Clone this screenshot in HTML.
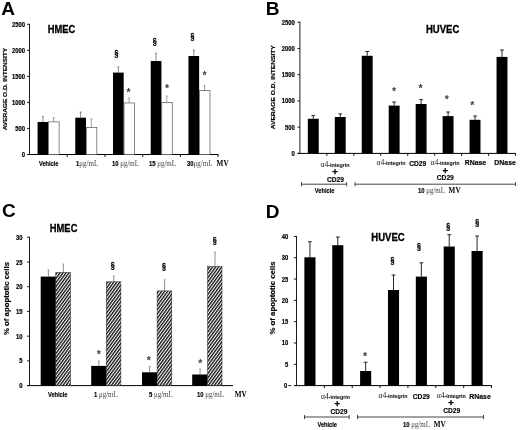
<!DOCTYPE html>
<html lang="en">
<head>
<meta charset="utf-8">
<title>Figure</title>
<style>
html,body{margin:0;padding:0;background:#fff;}
body{width:520px;height:430px;overflow:hidden;font-family:"Liberation Sans", Arial, Helvetica, sans-serif;}
svg{display:block;filter:blur(0.35px);}
</style>
</head>
<body>
<svg width="520" height="430" viewBox="0 0 520 430">
<rect x="0" y="0" width="520" height="430" fill="#ffffff"/>
<text transform="translate(1.30,14.80) scale(1,1)" font-family='"Liberation Sans", Arial, Helvetica, sans-serif' font-size="19" font-weight="bold" text-anchor="start" fill="#000"  >A</text>
<text transform="translate(61.50,33.10) scale(0.93,1)" font-family='"Liberation Sans", Arial, Helvetica, sans-serif' font-size="10.1" font-weight="bold" text-anchor="middle" fill="#000" stroke="#000" stroke-width="0.3" >HMEC</text>
<line x1="29.50" y1="23.80" x2="29.50" y2="155.00" stroke="#000" stroke-width="0.9"/>
<line x1="27.30" y1="154.50" x2="218.40" y2="154.50" stroke="#000" stroke-width="1"/>
<line x1="27.10" y1="154.50" x2="29.50" y2="154.50" stroke="#000" stroke-width="0.9"/>
<text transform="translate(25.00,157.00) scale(0.9,1)" font-family='"Liberation Sans", Arial, Helvetica, sans-serif' font-size="6.5" font-weight="bold" text-anchor="end" fill="#000" stroke="#000" stroke-width="0.2" >0</text>
<line x1="27.10" y1="128.46" x2="29.50" y2="128.46" stroke="#000" stroke-width="0.9"/>
<text transform="translate(25.00,130.96) scale(0.9,1)" font-family='"Liberation Sans", Arial, Helvetica, sans-serif' font-size="6.5" font-weight="bold" text-anchor="end" fill="#000" stroke="#000" stroke-width="0.2" >500</text>
<line x1="27.10" y1="102.42" x2="29.50" y2="102.42" stroke="#000" stroke-width="0.9"/>
<text transform="translate(25.00,104.92) scale(0.9,1)" font-family='"Liberation Sans", Arial, Helvetica, sans-serif' font-size="6.5" font-weight="bold" text-anchor="end" fill="#000" stroke="#000" stroke-width="0.2" >1000</text>
<line x1="27.10" y1="76.38" x2="29.50" y2="76.38" stroke="#000" stroke-width="0.9"/>
<text transform="translate(25.00,78.88) scale(0.9,1)" font-family='"Liberation Sans", Arial, Helvetica, sans-serif' font-size="6.5" font-weight="bold" text-anchor="end" fill="#000" stroke="#000" stroke-width="0.2" >1500</text>
<line x1="27.10" y1="50.34" x2="29.50" y2="50.34" stroke="#000" stroke-width="0.9"/>
<text transform="translate(25.00,52.84) scale(0.9,1)" font-family='"Liberation Sans", Arial, Helvetica, sans-serif' font-size="6.5" font-weight="bold" text-anchor="end" fill="#000" stroke="#000" stroke-width="0.2" >2000</text>
<line x1="27.10" y1="24.30" x2="29.50" y2="24.30" stroke="#000" stroke-width="0.9"/>
<text transform="translate(25.00,26.80) scale(0.9,1)" font-family='"Liberation Sans", Arial, Helvetica, sans-serif' font-size="6.5" font-weight="bold" text-anchor="end" fill="#000" stroke="#000" stroke-width="0.2" >2500</text>
<text transform="translate(6.60,89.10) rotate(-90)" font-family='"Liberation Sans", Arial, Helvetica, sans-serif' font-size="5.5" font-weight="bold" text-anchor="middle" fill="#000" stroke="#000" stroke-width="0.15" textLength="82.5" lengthAdjust="spacingAndGlyphs">AVERAGE O.D. INTENSITY</text>
<line x1="67.22" y1="154.50" x2="67.22" y2="157.00" stroke="#000" stroke-width="0.9"/>
<line x1="104.94" y1="154.50" x2="104.94" y2="157.00" stroke="#000" stroke-width="0.9"/>
<line x1="142.66" y1="154.50" x2="142.66" y2="157.00" stroke="#000" stroke-width="0.9"/>
<line x1="180.38" y1="154.50" x2="180.38" y2="157.00" stroke="#000" stroke-width="0.9"/>
<line x1="218.10" y1="154.50" x2="218.10" y2="157.00" stroke="#000" stroke-width="0.9"/>
<line x1="42.91" y1="122.00" x2="42.91" y2="116.40" stroke="#555" stroke-width="0.7"/>
<line x1="42.01" y1="116.40" x2="43.81" y2="116.40" stroke="#555" stroke-width="0.7"/>
<line x1="53.61" y1="121.50" x2="53.61" y2="117.70" stroke="#777" stroke-width="0.7"/>
<line x1="52.71" y1="117.70" x2="54.51" y2="117.70" stroke="#777" stroke-width="0.7"/>
<rect x="37.56" y="122.00" width="10.70" height="32.50" fill="#000" stroke="none" stroke-width="1"/>
<rect x="48.61" y="121.85" width="10.50" height="32.65" fill="#fff" stroke="#555" stroke-width="0.7"/>
<line x1="80.63" y1="117.70" x2="80.63" y2="112.00" stroke="#555" stroke-width="0.7"/>
<line x1="79.73" y1="112.00" x2="81.53" y2="112.00" stroke="#555" stroke-width="0.7"/>
<line x1="91.33" y1="127.00" x2="91.33" y2="119.00" stroke="#777" stroke-width="0.7"/>
<line x1="90.43" y1="119.00" x2="92.23" y2="119.00" stroke="#777" stroke-width="0.7"/>
<rect x="75.28" y="117.70" width="10.70" height="36.80" fill="#000" stroke="none" stroke-width="1"/>
<rect x="86.33" y="127.35" width="10.50" height="27.15" fill="#fff" stroke="#555" stroke-width="0.7"/>
<line x1="118.35" y1="72.60" x2="118.35" y2="66.80" stroke="#555" stroke-width="0.7"/>
<line x1="117.45" y1="66.80" x2="119.25" y2="66.80" stroke="#555" stroke-width="0.7"/>
<line x1="129.05" y1="102.60" x2="129.05" y2="98.00" stroke="#777" stroke-width="0.7"/>
<line x1="128.15" y1="98.00" x2="129.95" y2="98.00" stroke="#777" stroke-width="0.7"/>
<rect x="113.00" y="72.60" width="10.70" height="81.90" fill="#000" stroke="none" stroke-width="1"/>
<rect x="124.05" y="102.95" width="10.50" height="51.55" fill="#fff" stroke="#555" stroke-width="0.7"/>
<line x1="156.07" y1="61.00" x2="156.07" y2="53.20" stroke="#555" stroke-width="0.7"/>
<line x1="155.17" y1="53.20" x2="156.97" y2="53.20" stroke="#555" stroke-width="0.7"/>
<line x1="166.77" y1="102.00" x2="166.77" y2="96.00" stroke="#777" stroke-width="0.7"/>
<line x1="165.87" y1="96.00" x2="167.67" y2="96.00" stroke="#777" stroke-width="0.7"/>
<rect x="150.72" y="61.00" width="10.70" height="93.50" fill="#000" stroke="none" stroke-width="1"/>
<rect x="161.77" y="102.35" width="10.50" height="52.15" fill="#fff" stroke="#555" stroke-width="0.7"/>
<line x1="193.79" y1="56.00" x2="193.79" y2="50.00" stroke="#555" stroke-width="0.7"/>
<line x1="192.89" y1="50.00" x2="194.69" y2="50.00" stroke="#555" stroke-width="0.7"/>
<line x1="204.49" y1="90.30" x2="204.49" y2="85.50" stroke="#777" stroke-width="0.7"/>
<line x1="203.59" y1="85.50" x2="205.39" y2="85.50" stroke="#777" stroke-width="0.7"/>
<rect x="188.44" y="56.00" width="10.70" height="98.50" fill="#000" stroke="none" stroke-width="1"/>
<rect x="199.49" y="90.65" width="10.50" height="63.85" fill="#fff" stroke="#555" stroke-width="0.7"/>
<text transform="translate(48.70,166.40) scale(0.89,1)" font-family='"Liberation Sans", Arial, Helvetica, sans-serif' font-size="6.4" font-weight="bold" text-anchor="middle" fill="#000" stroke="#000" stroke-width="0.15" >Vehicle</text>
<text transform="translate(76.00,166.40) scale(0.92,1)" text-anchor="start" font-size="6.4" xml:space="preserve"><tspan font-family='"Liberation Sans", Arial, Helvetica, sans-serif' font-weight="bold" fill="#000" stroke="#000" stroke-width="0.15">1</tspan><tspan font-family='"Liberation Serif", "Times New Roman", serif' font-size="7.6" fill="#444">μg/mL</tspan></text>
<text transform="translate(112.00,166.40) scale(0.92,1)" text-anchor="start" font-size="6.4" xml:space="preserve"><tspan font-family='"Liberation Sans", Arial, Helvetica, sans-serif' font-weight="bold" fill="#000" stroke="#000" stroke-width="0.15">10 </tspan><tspan font-family='"Liberation Serif", "Times New Roman", serif' font-size="7.6" fill="#444">μg/mL</tspan></text>
<text transform="translate(149.00,166.40) scale(0.92,1)" text-anchor="start" font-size="6.4" xml:space="preserve"><tspan font-family='"Liberation Sans", Arial, Helvetica, sans-serif' font-weight="bold" fill="#000" stroke="#000" stroke-width="0.15">15 </tspan><tspan font-family='"Liberation Serif", "Times New Roman", serif' font-size="7.6" fill="#444">μg/mL</tspan></text>
<text transform="translate(187.00,166.40) scale(0.92,1)" text-anchor="start" font-size="6.4" xml:space="preserve"><tspan font-family='"Liberation Sans", Arial, Helvetica, sans-serif' font-weight="bold" fill="#000" stroke="#000" stroke-width="0.15">30</tspan><tspan font-family='"Liberation Serif", "Times New Roman", serif' font-size="7.6" fill="#444">μg/mL</tspan></text>
<text transform="translate(222.60,165.80) scale(1,1)" font-family='"Liberation Serif", "Times New Roman", serif' font-size="7.2" font-weight="bold" text-anchor="middle" fill="#000"  >MV</text>
<text transform="translate(116.40,56.00) scale(0.82,1)" font-family='"Liberation Sans", Arial, Helvetica, sans-serif' font-size="8.6" font-weight="bold" text-anchor="middle" fill="#000" stroke="#000" stroke-width="0.3" >§</text>
<text transform="translate(154.60,43.70) scale(0.82,1)" font-family='"Liberation Sans", Arial, Helvetica, sans-serif' font-size="8.6" font-weight="bold" text-anchor="middle" fill="#000" stroke="#000" stroke-width="0.3" >§</text>
<text transform="translate(192.50,39.30) scale(0.82,1)" font-family='"Liberation Sans", Arial, Helvetica, sans-serif' font-size="8.6" font-weight="bold" text-anchor="middle" fill="#000" stroke="#000" stroke-width="0.3" >§</text>
<text transform="translate(128.50,95.50) scale(1,1)" font-family='"Liberation Sans", Arial, Helvetica, sans-serif' font-size="10.5" font-weight="bold" text-anchor="middle" fill="#3a3a3a"  >*</text>
<text transform="translate(167.00,91.60) scale(1,1)" font-family='"Liberation Sans", Arial, Helvetica, sans-serif' font-size="10.5" font-weight="bold" text-anchor="middle" fill="#3a3a3a"  >*</text>
<text transform="translate(204.60,79.20) scale(1,1)" font-family='"Liberation Sans", Arial, Helvetica, sans-serif' font-size="10.5" font-weight="bold" text-anchor="middle" fill="#3a3a3a"  >*</text>
<text transform="translate(265.70,14.80) scale(1,1)" font-family='"Liberation Sans", Arial, Helvetica, sans-serif' font-size="19" font-weight="bold" text-anchor="start" fill="#000"  >B</text>
<text transform="translate(442.60,32.90) scale(0.945,1)" font-family='"Liberation Sans", Arial, Helvetica, sans-serif' font-size="10.1" font-weight="bold" text-anchor="middle" fill="#000" stroke="#000" stroke-width="0.3" >HUVEC</text>
<line x1="299.90" y1="21.70" x2="299.90" y2="153.90" stroke="#000" stroke-width="0.9"/>
<line x1="297.70" y1="153.40" x2="515.88" y2="153.40" stroke="#000" stroke-width="1"/>
<line x1="297.50" y1="153.40" x2="299.90" y2="153.40" stroke="#000" stroke-width="0.9"/>
<text transform="translate(294.80,155.90) scale(0.9,1)" font-family='"Liberation Sans", Arial, Helvetica, sans-serif' font-size="6.5" font-weight="bold" text-anchor="end" fill="#000" stroke="#000" stroke-width="0.2" >0</text>
<line x1="297.50" y1="127.16" x2="299.90" y2="127.16" stroke="#000" stroke-width="0.9"/>
<text transform="translate(294.80,129.66) scale(0.9,1)" font-family='"Liberation Sans", Arial, Helvetica, sans-serif' font-size="6.5" font-weight="bold" text-anchor="end" fill="#000" stroke="#000" stroke-width="0.2" >500</text>
<line x1="297.50" y1="100.92" x2="299.90" y2="100.92" stroke="#000" stroke-width="0.9"/>
<text transform="translate(294.80,103.42) scale(0.9,1)" font-family='"Liberation Sans", Arial, Helvetica, sans-serif' font-size="6.5" font-weight="bold" text-anchor="end" fill="#000" stroke="#000" stroke-width="0.2" >1000</text>
<line x1="297.50" y1="74.68" x2="299.90" y2="74.68" stroke="#000" stroke-width="0.9"/>
<text transform="translate(294.80,77.18) scale(0.9,1)" font-family='"Liberation Sans", Arial, Helvetica, sans-serif' font-size="6.5" font-weight="bold" text-anchor="end" fill="#000" stroke="#000" stroke-width="0.2" >1500</text>
<line x1="297.50" y1="48.44" x2="299.90" y2="48.44" stroke="#000" stroke-width="0.9"/>
<text transform="translate(294.80,50.94) scale(0.9,1)" font-family='"Liberation Sans", Arial, Helvetica, sans-serif' font-size="6.5" font-weight="bold" text-anchor="end" fill="#000" stroke="#000" stroke-width="0.2" >2000</text>
<line x1="297.50" y1="22.20" x2="299.90" y2="22.20" stroke="#000" stroke-width="0.9"/>
<text transform="translate(294.80,24.70) scale(0.9,1)" font-family='"Liberation Sans", Arial, Helvetica, sans-serif' font-size="6.5" font-weight="bold" text-anchor="end" fill="#000" stroke="#000" stroke-width="0.2" >2500</text>
<text transform="translate(274.80,87.30) rotate(-90)" font-family='"Liberation Sans", Arial, Helvetica, sans-serif' font-size="5.5" font-weight="bold" text-anchor="middle" fill="#000" stroke="#000" stroke-width="0.15" textLength="84" lengthAdjust="spacingAndGlyphs">AVERAGE O.D. INTENSITY</text>
<line x1="326.86" y1="153.40" x2="326.86" y2="155.90" stroke="#000" stroke-width="0.9"/>
<line x1="353.82" y1="153.40" x2="353.82" y2="155.90" stroke="#000" stroke-width="0.9"/>
<line x1="380.78" y1="153.40" x2="380.78" y2="155.90" stroke="#000" stroke-width="0.9"/>
<line x1="407.74" y1="153.40" x2="407.74" y2="155.90" stroke="#000" stroke-width="0.9"/>
<line x1="434.70" y1="153.40" x2="434.70" y2="155.90" stroke="#000" stroke-width="0.9"/>
<line x1="461.66" y1="153.40" x2="461.66" y2="155.90" stroke="#000" stroke-width="0.9"/>
<line x1="488.62" y1="153.40" x2="488.62" y2="155.90" stroke="#000" stroke-width="0.9"/>
<line x1="515.58" y1="153.40" x2="515.58" y2="155.90" stroke="#000" stroke-width="0.9"/>
<line x1="313.28" y1="118.80" x2="313.28" y2="115.60" stroke="#111" stroke-width="0.9"/>
<line x1="311.38" y1="115.60" x2="315.18" y2="115.60" stroke="#111" stroke-width="0.9"/>
<rect x="307.83" y="118.80" width="10.90" height="34.60" fill="#000" stroke="none" stroke-width="1"/>
<line x1="340.24" y1="117.00" x2="340.24" y2="113.90" stroke="#111" stroke-width="0.9"/>
<line x1="338.34" y1="113.90" x2="342.14" y2="113.90" stroke="#111" stroke-width="0.9"/>
<rect x="334.79" y="117.00" width="10.90" height="36.40" fill="#000" stroke="none" stroke-width="1"/>
<line x1="367.20" y1="55.80" x2="367.20" y2="51.50" stroke="#111" stroke-width="0.9"/>
<line x1="365.30" y1="51.50" x2="369.10" y2="51.50" stroke="#111" stroke-width="0.9"/>
<rect x="361.75" y="55.80" width="10.90" height="97.60" fill="#000" stroke="none" stroke-width="1"/>
<line x1="394.16" y1="105.60" x2="394.16" y2="102.00" stroke="#111" stroke-width="0.9"/>
<line x1="392.26" y1="102.00" x2="396.06" y2="102.00" stroke="#111" stroke-width="0.9"/>
<rect x="388.71" y="105.60" width="10.90" height="47.80" fill="#000" stroke="none" stroke-width="1"/>
<line x1="421.12" y1="104.00" x2="421.12" y2="99.60" stroke="#111" stroke-width="0.9"/>
<line x1="419.22" y1="99.60" x2="423.02" y2="99.60" stroke="#111" stroke-width="0.9"/>
<rect x="415.67" y="104.00" width="10.90" height="49.40" fill="#000" stroke="none" stroke-width="1"/>
<line x1="448.08" y1="116.10" x2="448.08" y2="112.00" stroke="#111" stroke-width="0.9"/>
<line x1="446.18" y1="112.00" x2="449.98" y2="112.00" stroke="#111" stroke-width="0.9"/>
<rect x="442.63" y="116.10" width="10.90" height="37.30" fill="#000" stroke="none" stroke-width="1"/>
<line x1="475.04" y1="119.80" x2="475.04" y2="116.00" stroke="#111" stroke-width="0.9"/>
<line x1="473.14" y1="116.00" x2="476.94" y2="116.00" stroke="#111" stroke-width="0.9"/>
<rect x="469.59" y="119.80" width="10.90" height="33.60" fill="#000" stroke="none" stroke-width="1"/>
<line x1="502.00" y1="56.90" x2="502.00" y2="50.00" stroke="#111" stroke-width="0.9"/>
<line x1="500.10" y1="50.00" x2="503.90" y2="50.00" stroke="#111" stroke-width="0.9"/>
<rect x="496.55" y="56.90" width="10.90" height="96.50" fill="#000" stroke="none" stroke-width="1"/>
<text transform="translate(394.00,94.50) scale(1,1)" font-family='"Liberation Sans", Arial, Helvetica, sans-serif' font-size="10.5" font-weight="bold" text-anchor="middle" fill="#3a3a3a"  >*</text>
<text transform="translate(420.50,91.50) scale(1,1)" font-family='"Liberation Sans", Arial, Helvetica, sans-serif' font-size="10.5" font-weight="bold" text-anchor="middle" fill="#3a3a3a"  >*</text>
<text transform="translate(446.80,103.30) scale(1,1)" font-family='"Liberation Sans", Arial, Helvetica, sans-serif' font-size="10.5" font-weight="bold" text-anchor="middle" fill="#3a3a3a"  >*</text>
<text transform="translate(472.40,109.30) scale(1,1)" font-family='"Liberation Sans", Arial, Helvetica, sans-serif' font-size="10.5" font-weight="bold" text-anchor="middle" fill="#3a3a3a"  >*</text>
<text transform="translate(335.00,166.60)" text-anchor="middle" xml:space="preserve"><tspan font-family='"Liberation Serif", "Times New Roman", serif' font-size="7.6" fill="#222">α4</tspan><tspan font-family='"Liberation Sans", Arial, Helvetica, sans-serif' font-weight="bold" font-size="5.3" fill="#222" stroke="#222" stroke-width="0.12">-integrin</tspan></text>
<text transform="translate(335.00,174.60) scale(1,1)" font-family='"Liberation Sans", Arial, Helvetica, sans-serif' font-size="9.5" font-weight="bold" text-anchor="middle" fill="#000" stroke="#000" stroke-width="0.3" >+</text>
<text transform="translate(335.50,181.60) scale(0.9,1)" font-family='"Liberation Sans", Arial, Helvetica, sans-serif' font-size="7.4" font-weight="bold" text-anchor="middle" fill="#000" stroke="#000" stroke-width="0.15" >CD29</text>
<text transform="translate(391.00,165.20)" text-anchor="middle" xml:space="preserve"><tspan font-family='"Liberation Serif", "Times New Roman", serif' font-size="7.6" fill="#222">α4</tspan><tspan font-family='"Liberation Sans", Arial, Helvetica, sans-serif' font-weight="bold" font-size="5.3" fill="#222" stroke="#222" stroke-width="0.12">-integrin</tspan></text>
<text transform="translate(417.70,165.60) scale(0.9,1)" font-family='"Liberation Sans", Arial, Helvetica, sans-serif' font-size="7.4" font-weight="bold" text-anchor="middle" fill="#000" stroke="#000" stroke-width="0.15" >CD29</text>
<text transform="translate(445.00,165.20)" text-anchor="middle" xml:space="preserve"><tspan font-family='"Liberation Serif", "Times New Roman", serif' font-size="7.6" fill="#222">α4</tspan><tspan font-family='"Liberation Sans", Arial, Helvetica, sans-serif' font-weight="bold" font-size="5.3" fill="#222" stroke="#222" stroke-width="0.12">-integrin</tspan></text>
<text transform="translate(445.30,173.60) scale(1,1)" font-family='"Liberation Sans", Arial, Helvetica, sans-serif' font-size="9.5" font-weight="bold" text-anchor="middle" fill="#000" stroke="#000" stroke-width="0.3" >+</text>
<text transform="translate(445.30,179.90) scale(0.9,1)" font-family='"Liberation Sans", Arial, Helvetica, sans-serif' font-size="7.4" font-weight="bold" text-anchor="middle" fill="#000" stroke="#000" stroke-width="0.15" >CD29</text>
<text transform="translate(475.40,165.00) scale(0.9,1)" font-family='"Liberation Sans", Arial, Helvetica, sans-serif' font-size="7.7" font-weight="bold" text-anchor="middle" fill="#000" stroke="#000" stroke-width="0.15" >RNase</text>
<text transform="translate(505.10,165.00) scale(0.9,1)" font-family='"Liberation Sans", Arial, Helvetica, sans-serif' font-size="7.7" font-weight="bold" text-anchor="middle" fill="#000" stroke="#000" stroke-width="0.15" >DNase</text>
<line x1="301.50" y1="184.20" x2="346.70" y2="184.20" stroke="#444" stroke-width="1.0"/>
<line x1="301.50" y1="182.20" x2="301.50" y2="186.20" stroke="#444" stroke-width="1.0"/>
<line x1="346.70" y1="182.20" x2="346.70" y2="186.20" stroke="#444" stroke-width="1.0"/>
<line x1="355.00" y1="184.20" x2="515.60" y2="184.20" stroke="#444" stroke-width="1.0"/>
<line x1="355.00" y1="182.20" x2="355.00" y2="186.20" stroke="#444" stroke-width="1.0"/>
<line x1="515.60" y1="182.20" x2="515.60" y2="186.20" stroke="#444" stroke-width="1.0"/>
<text transform="translate(324.60,193.30) scale(0.89,1)" font-family='"Liberation Sans", Arial, Helvetica, sans-serif' font-size="6.4" font-weight="bold" text-anchor="middle" fill="#000" stroke="#000" stroke-width="0.15" >Vehicle</text>
<text transform="translate(418.00,193.30) scale(0.92,1)" text-anchor="start" font-size="6.4" xml:space="preserve"><tspan font-family='"Liberation Sans", Arial, Helvetica, sans-serif' font-weight="bold" fill="#000" stroke="#000" stroke-width="0.15">10 </tspan><tspan font-family='"Liberation Serif", "Times New Roman", serif' font-size="7.6" fill="#444">μg/mL</tspan></text>
<text transform="translate(454.60,193.40) scale(1,1)" font-family='"Liberation Serif", "Times New Roman", serif' font-size="7.2" font-weight="bold" text-anchor="middle" fill="#000"  >MV</text>
<text transform="translate(2.00,217.40) scale(1,1)" font-family='"Liberation Sans", Arial, Helvetica, sans-serif' font-size="19" font-weight="bold" text-anchor="start" fill="#000"  >C</text>
<text transform="translate(63.60,232.00) scale(0.93,1)" font-family='"Liberation Sans", Arial, Helvetica, sans-serif' font-size="10.1" font-weight="bold" text-anchor="middle" fill="#000" stroke="#000" stroke-width="0.3" >HMEC</text>
<line x1="29.50" y1="236.80" x2="29.50" y2="386.10" stroke="#000" stroke-width="0.9"/>
<line x1="27.30" y1="385.60" x2="233.00" y2="385.60" stroke="#000" stroke-width="1"/>
<line x1="27.10" y1="385.60" x2="29.50" y2="385.60" stroke="#000" stroke-width="0.9"/>
<text transform="translate(22.60,388.10) scale(0.9,1)" font-family='"Liberation Sans", Arial, Helvetica, sans-serif' font-size="6.5" font-weight="bold" text-anchor="end" fill="#000" stroke="#000" stroke-width="0.2" >0</text>
<line x1="27.10" y1="360.88" x2="29.50" y2="360.88" stroke="#000" stroke-width="0.9"/>
<text transform="translate(22.60,363.38) scale(0.9,1)" font-family='"Liberation Sans", Arial, Helvetica, sans-serif' font-size="6.5" font-weight="bold" text-anchor="end" fill="#000" stroke="#000" stroke-width="0.2" >5</text>
<line x1="27.10" y1="336.16" x2="29.50" y2="336.16" stroke="#000" stroke-width="0.9"/>
<text transform="translate(22.60,338.66) scale(0.9,1)" font-family='"Liberation Sans", Arial, Helvetica, sans-serif' font-size="6.5" font-weight="bold" text-anchor="end" fill="#000" stroke="#000" stroke-width="0.2" >10</text>
<line x1="27.10" y1="311.44" x2="29.50" y2="311.44" stroke="#000" stroke-width="0.9"/>
<text transform="translate(22.60,313.94) scale(0.9,1)" font-family='"Liberation Sans", Arial, Helvetica, sans-serif' font-size="6.5" font-weight="bold" text-anchor="end" fill="#000" stroke="#000" stroke-width="0.2" >15</text>
<line x1="27.10" y1="286.72" x2="29.50" y2="286.72" stroke="#000" stroke-width="0.9"/>
<text transform="translate(22.60,289.22) scale(0.9,1)" font-family='"Liberation Sans", Arial, Helvetica, sans-serif' font-size="6.5" font-weight="bold" text-anchor="end" fill="#000" stroke="#000" stroke-width="0.2" >20</text>
<line x1="27.10" y1="262.00" x2="29.50" y2="262.00" stroke="#000" stroke-width="0.9"/>
<text transform="translate(22.60,264.50) scale(0.9,1)" font-family='"Liberation Sans", Arial, Helvetica, sans-serif' font-size="6.5" font-weight="bold" text-anchor="end" fill="#000" stroke="#000" stroke-width="0.2" >25</text>
<line x1="27.10" y1="237.28" x2="29.50" y2="237.28" stroke="#000" stroke-width="0.9"/>
<text transform="translate(22.60,239.78) scale(0.9,1)" font-family='"Liberation Sans", Arial, Helvetica, sans-serif' font-size="6.5" font-weight="bold" text-anchor="end" fill="#000" stroke="#000" stroke-width="0.2" >30</text>
<text transform="translate(8.60,298.50) rotate(-90)" font-family='"Liberation Sans", Arial, Helvetica, sans-serif' font-size="7.6" font-weight="bold" text-anchor="middle" fill="#000" stroke="#000" stroke-width="0.15" textLength="73" lengthAdjust="spacingAndGlyphs">% of apoptotic cells</text>
<defs><pattern id="h" width="2.45" height="2.45" patternUnits="userSpaceOnUse" patternTransform="rotate(-54)"><rect width="2.45" height="2.45" fill="#fff"/><rect width="2.45" height="1.3" fill="#0a0a0a"/></pattern></defs>
<line x1="48.40" y1="276.60" x2="48.40" y2="269.80" stroke="#777" stroke-width="0.8"/>
<line x1="47.60" y1="269.80" x2="49.20" y2="269.80" stroke="#777" stroke-width="0.8"/>
<line x1="63.35" y1="272.40" x2="63.35" y2="264.00" stroke="#777" stroke-width="0.8"/>
<line x1="62.55" y1="264.00" x2="64.15" y2="264.00" stroke="#777" stroke-width="0.8"/>
<rect x="40.70" y="276.60" width="15.10" height="109.00" fill="#000" stroke="none" stroke-width="1"/>
<rect x="55.80" y="272.40" width="14.70" height="113.20" fill="url(#h)" stroke="#222" stroke-width="0.5"/>
<line x1="98.90" y1="365.90" x2="98.90" y2="361.00" stroke="#777" stroke-width="0.8"/>
<line x1="98.10" y1="361.00" x2="99.70" y2="361.00" stroke="#777" stroke-width="0.8"/>
<line x1="113.80" y1="281.80" x2="113.80" y2="276.00" stroke="#777" stroke-width="0.8"/>
<line x1="113.00" y1="276.00" x2="114.60" y2="276.00" stroke="#777" stroke-width="0.8"/>
<rect x="91.20" y="365.90" width="15.10" height="19.70" fill="#000" stroke="none" stroke-width="1"/>
<rect x="106.30" y="281.80" width="14.60" height="103.80" fill="url(#h)" stroke="#222" stroke-width="0.5"/>
<line x1="149.70" y1="372.30" x2="149.70" y2="366.50" stroke="#777" stroke-width="0.8"/>
<line x1="148.90" y1="366.50" x2="150.50" y2="366.50" stroke="#777" stroke-width="0.8"/>
<line x1="164.65" y1="290.90" x2="164.65" y2="279.80" stroke="#777" stroke-width="0.8"/>
<line x1="163.85" y1="279.80" x2="165.45" y2="279.80" stroke="#777" stroke-width="0.8"/>
<rect x="142.00" y="372.30" width="15.10" height="13.30" fill="#000" stroke="none" stroke-width="1"/>
<rect x="157.10" y="290.90" width="14.70" height="94.70" fill="url(#h)" stroke="#222" stroke-width="0.5"/>
<line x1="200.05" y1="374.50" x2="200.05" y2="369.00" stroke="#777" stroke-width="0.8"/>
<line x1="199.25" y1="369.00" x2="200.85" y2="369.00" stroke="#777" stroke-width="0.8"/>
<line x1="215.00" y1="266.50" x2="215.00" y2="252.20" stroke="#777" stroke-width="0.8"/>
<line x1="214.20" y1="252.20" x2="215.80" y2="252.20" stroke="#777" stroke-width="0.8"/>
<rect x="192.20" y="374.50" width="15.40" height="11.10" fill="#000" stroke="none" stroke-width="1"/>
<rect x="207.60" y="266.50" width="14.40" height="119.10" fill="url(#h)" stroke="#222" stroke-width="0.5"/>
<text transform="translate(57.70,397.00) scale(0.89,1)" font-family='"Liberation Sans", Arial, Helvetica, sans-serif' font-size="6.4" font-weight="bold" text-anchor="middle" fill="#000" stroke="#000" stroke-width="0.15" >Vehicle</text>
<text transform="translate(94.00,397.00) scale(0.92,1)" text-anchor="start" font-size="6.4" xml:space="preserve"><tspan font-family='"Liberation Sans", Arial, Helvetica, sans-serif' font-weight="bold" fill="#000" stroke="#000" stroke-width="0.15">1 </tspan><tspan font-family='"Liberation Serif", "Times New Roman", serif' font-size="7.6" fill="#444">μg/mL</tspan></text>
<text transform="translate(149.00,397.00) scale(0.92,1)" text-anchor="start" font-size="6.4" xml:space="preserve"><tspan font-family='"Liberation Sans", Arial, Helvetica, sans-serif' font-weight="bold" fill="#000" stroke="#000" stroke-width="0.15">5 </tspan><tspan font-family='"Liberation Serif", "Times New Roman", serif' font-size="7.6" fill="#444">μg/mL</tspan></text>
<text transform="translate(197.00,397.00) scale(0.92,1)" text-anchor="start" font-size="6.4" xml:space="preserve"><tspan font-family='"Liberation Sans", Arial, Helvetica, sans-serif' font-weight="bold" fill="#000" stroke="#000" stroke-width="0.15">10 </tspan><tspan font-family='"Liberation Serif", "Times New Roman", serif' font-size="7.6" fill="#444">μg/mL</tspan></text>
<text transform="translate(240.80,397.20) scale(1,1)" font-family='"Liberation Serif", "Times New Roman", serif' font-size="7.2" font-weight="bold" text-anchor="middle" fill="#000"  >MV</text>
<text transform="translate(112.60,268.00) scale(0.82,1)" font-family='"Liberation Sans", Arial, Helvetica, sans-serif' font-size="8.6" font-weight="bold" text-anchor="middle" fill="#000" stroke="#000" stroke-width="0.3" >§</text>
<text transform="translate(164.00,269.20) scale(0.82,1)" font-family='"Liberation Sans", Arial, Helvetica, sans-serif' font-size="8.6" font-weight="bold" text-anchor="middle" fill="#000" stroke="#000" stroke-width="0.3" >§</text>
<text transform="translate(214.70,242.70) scale(0.82,1)" font-family='"Liberation Sans", Arial, Helvetica, sans-serif' font-size="8.6" font-weight="bold" text-anchor="middle" fill="#000" stroke="#000" stroke-width="0.3" >§</text>
<text transform="translate(98.70,358.20) scale(1,1)" font-family='"Liberation Sans", Arial, Helvetica, sans-serif' font-size="10.5" font-weight="bold" text-anchor="middle" fill="#3a3a3a"  >*</text>
<text transform="translate(148.80,364.40) scale(1,1)" font-family='"Liberation Sans", Arial, Helvetica, sans-serif' font-size="10.5" font-weight="bold" text-anchor="middle" fill="#3a3a3a"  >*</text>
<text transform="translate(200.40,367.00) scale(1,1)" font-family='"Liberation Sans", Arial, Helvetica, sans-serif' font-size="10.5" font-weight="bold" text-anchor="middle" fill="#3a3a3a"  >*</text>
<text transform="translate(265.70,217.50) scale(1,1)" font-family='"Liberation Sans", Arial, Helvetica, sans-serif' font-size="19" font-weight="bold" text-anchor="start" fill="#000"  >D</text>
<text transform="translate(388.00,240.90) scale(0.945,1)" font-family='"Liberation Sans", Arial, Helvetica, sans-serif' font-size="10.1" font-weight="bold" text-anchor="middle" fill="#000" stroke="#000" stroke-width="0.3" >HUVEC</text>
<line x1="296.50" y1="235.90" x2="296.50" y2="386.10" stroke="#000" stroke-width="0.9"/>
<line x1="294.30" y1="385.60" x2="491.82" y2="385.60" stroke="#000" stroke-width="1"/>
<line x1="293.90" y1="385.60" x2="296.50" y2="385.60" stroke="#000" stroke-width="0.9"/>
<text transform="translate(287.30,388.10) scale(0.9,1)" font-family='"Liberation Sans", Arial, Helvetica, sans-serif' font-size="6.5" font-weight="bold" text-anchor="end" fill="#000" stroke="#000" stroke-width="0.2" >0</text>
<line x1="293.90" y1="364.29" x2="296.50" y2="364.29" stroke="#000" stroke-width="0.9"/>
<text transform="translate(288.30,366.79) scale(0.9,1)" font-family='"Liberation Sans", Arial, Helvetica, sans-serif' font-size="6.5" font-weight="bold" text-anchor="end" fill="#000" stroke="#000" stroke-width="0.2" >5</text>
<line x1="293.90" y1="342.98" x2="296.50" y2="342.98" stroke="#000" stroke-width="0.9"/>
<text transform="translate(288.30,345.48) scale(0.9,1)" font-family='"Liberation Sans", Arial, Helvetica, sans-serif' font-size="6.5" font-weight="bold" text-anchor="end" fill="#000" stroke="#000" stroke-width="0.2" >10</text>
<line x1="293.90" y1="321.67" x2="296.50" y2="321.67" stroke="#000" stroke-width="0.9"/>
<text transform="translate(288.30,324.17) scale(0.9,1)" font-family='"Liberation Sans", Arial, Helvetica, sans-serif' font-size="6.5" font-weight="bold" text-anchor="end" fill="#000" stroke="#000" stroke-width="0.2" >15</text>
<line x1="293.90" y1="300.36" x2="296.50" y2="300.36" stroke="#000" stroke-width="0.9"/>
<text transform="translate(288.30,302.86) scale(0.9,1)" font-family='"Liberation Sans", Arial, Helvetica, sans-serif' font-size="6.5" font-weight="bold" text-anchor="end" fill="#000" stroke="#000" stroke-width="0.2" >20</text>
<line x1="293.90" y1="279.05" x2="296.50" y2="279.05" stroke="#000" stroke-width="0.9"/>
<text transform="translate(288.30,281.55) scale(0.9,1)" font-family='"Liberation Sans", Arial, Helvetica, sans-serif' font-size="6.5" font-weight="bold" text-anchor="end" fill="#000" stroke="#000" stroke-width="0.2" >25</text>
<line x1="293.90" y1="257.74" x2="296.50" y2="257.74" stroke="#000" stroke-width="0.9"/>
<text transform="translate(288.30,260.24) scale(0.9,1)" font-family='"Liberation Sans", Arial, Helvetica, sans-serif' font-size="6.5" font-weight="bold" text-anchor="end" fill="#000" stroke="#000" stroke-width="0.2" >30</text>
<line x1="293.90" y1="236.43" x2="296.50" y2="236.43" stroke="#000" stroke-width="0.9"/>
<text transform="translate(288.30,238.93) scale(0.9,1)" font-family='"Liberation Sans", Arial, Helvetica, sans-serif' font-size="6.5" font-weight="bold" text-anchor="end" fill="#000" stroke="#000" stroke-width="0.2" >40</text>
<line x1="288.30" y1="385.60" x2="291.20" y2="385.60" stroke="#000" stroke-width="0.9"/>
<text transform="translate(275.30,298.00) rotate(-90)" font-family='"Liberation Sans", Arial, Helvetica, sans-serif' font-size="7.6" font-weight="bold" text-anchor="middle" fill="#000" stroke="#000" stroke-width="0.15" textLength="73" lengthAdjust="spacingAndGlyphs">% of apoptotic cells</text>
<line x1="324.36" y1="385.60" x2="324.36" y2="388.10" stroke="#000" stroke-width="0.9"/>
<line x1="352.22" y1="385.60" x2="352.22" y2="388.10" stroke="#000" stroke-width="0.9"/>
<line x1="380.08" y1="385.60" x2="380.08" y2="388.10" stroke="#000" stroke-width="0.9"/>
<line x1="407.94" y1="385.60" x2="407.94" y2="388.10" stroke="#000" stroke-width="0.9"/>
<line x1="435.80" y1="385.60" x2="435.80" y2="388.10" stroke="#000" stroke-width="0.9"/>
<line x1="463.66" y1="385.60" x2="463.66" y2="388.10" stroke="#000" stroke-width="0.9"/>
<line x1="491.52" y1="385.60" x2="491.52" y2="388.10" stroke="#000" stroke-width="0.9"/>
<line x1="309.93" y1="257.30" x2="309.93" y2="241.70" stroke="#111" stroke-width="0.9"/>
<line x1="308.03" y1="241.70" x2="311.83" y2="241.70" stroke="#111" stroke-width="0.9"/>
<rect x="304.38" y="257.30" width="11.10" height="128.30" fill="#000" stroke="none" stroke-width="1"/>
<line x1="337.79" y1="245.20" x2="337.79" y2="237.00" stroke="#111" stroke-width="0.9"/>
<line x1="335.89" y1="237.00" x2="339.69" y2="237.00" stroke="#111" stroke-width="0.9"/>
<rect x="332.24" y="245.20" width="11.10" height="140.40" fill="#000" stroke="none" stroke-width="1"/>
<line x1="365.65" y1="371.00" x2="365.65" y2="362.20" stroke="#111" stroke-width="0.9"/>
<line x1="363.75" y1="362.20" x2="367.55" y2="362.20" stroke="#111" stroke-width="0.9"/>
<rect x="360.10" y="371.00" width="11.10" height="14.60" fill="#000" stroke="none" stroke-width="1"/>
<line x1="393.51" y1="290.00" x2="393.51" y2="275.00" stroke="#111" stroke-width="0.9"/>
<line x1="391.61" y1="275.00" x2="395.41" y2="275.00" stroke="#111" stroke-width="0.9"/>
<rect x="387.96" y="290.00" width="11.10" height="95.60" fill="#000" stroke="none" stroke-width="1"/>
<line x1="421.37" y1="276.60" x2="421.37" y2="262.80" stroke="#111" stroke-width="0.9"/>
<line x1="419.47" y1="262.80" x2="423.27" y2="262.80" stroke="#111" stroke-width="0.9"/>
<rect x="415.82" y="276.60" width="11.10" height="109.00" fill="#000" stroke="none" stroke-width="1"/>
<line x1="449.23" y1="246.50" x2="449.23" y2="234.70" stroke="#111" stroke-width="0.9"/>
<line x1="447.33" y1="234.70" x2="451.13" y2="234.70" stroke="#111" stroke-width="0.9"/>
<rect x="443.68" y="246.50" width="11.10" height="139.10" fill="#000" stroke="none" stroke-width="1"/>
<line x1="477.09" y1="251.00" x2="477.09" y2="236.00" stroke="#111" stroke-width="0.9"/>
<line x1="475.19" y1="236.00" x2="478.99" y2="236.00" stroke="#111" stroke-width="0.9"/>
<rect x="471.54" y="251.00" width="11.10" height="134.60" fill="#000" stroke="none" stroke-width="1"/>
<text transform="translate(392.50,263.00) scale(0.82,1)" font-family='"Liberation Sans", Arial, Helvetica, sans-serif' font-size="8.6" font-weight="bold" text-anchor="middle" fill="#000" stroke="#000" stroke-width="0.3" >§</text>
<text transform="translate(419.00,249.20) scale(0.82,1)" font-family='"Liberation Sans", Arial, Helvetica, sans-serif' font-size="8.6" font-weight="bold" text-anchor="middle" fill="#000" stroke="#000" stroke-width="0.3" >§</text>
<text transform="translate(448.30,228.60) scale(0.82,1)" font-family='"Liberation Sans", Arial, Helvetica, sans-serif' font-size="8.6" font-weight="bold" text-anchor="middle" fill="#000" stroke="#000" stroke-width="0.3" >§</text>
<text transform="translate(477.20,225.30) scale(0.82,1)" font-family='"Liberation Sans", Arial, Helvetica, sans-serif' font-size="8.6" font-weight="bold" text-anchor="middle" fill="#000" stroke="#000" stroke-width="0.3" >§</text>
<text transform="translate(365.00,359.60) scale(1,1)" font-family='"Liberation Sans", Arial, Helvetica, sans-serif' font-size="10.5" font-weight="bold" text-anchor="middle" fill="#3a3a3a"  >*</text>
<text transform="translate(335.50,399.20)" text-anchor="middle" xml:space="preserve"><tspan font-family='"Liberation Serif", "Times New Roman", serif' font-size="7.6" fill="#222">α4</tspan><tspan font-family='"Liberation Sans", Arial, Helvetica, sans-serif' font-weight="bold" font-size="5.3" fill="#222" stroke="#222" stroke-width="0.12">-integrin</tspan></text>
<text transform="translate(337.40,407.20) scale(1,1)" font-family='"Liberation Sans", Arial, Helvetica, sans-serif' font-size="9.5" font-weight="bold" text-anchor="middle" fill="#000" stroke="#000" stroke-width="0.3" >+</text>
<text transform="translate(339.00,414.00) scale(0.9,1)" font-family='"Liberation Sans", Arial, Helvetica, sans-serif' font-size="7.4" font-weight="bold" text-anchor="middle" fill="#000" stroke="#000" stroke-width="0.15" >CD29</text>
<text transform="translate(393.00,398.40)" text-anchor="middle" xml:space="preserve"><tspan font-family='"Liberation Serif", "Times New Roman", serif' font-size="7.6" fill="#222">α4</tspan><tspan font-family='"Liberation Sans", Arial, Helvetica, sans-serif' font-weight="bold" font-size="5.3" fill="#222" stroke="#222" stroke-width="0.12">-integrin</tspan></text>
<text transform="translate(421.30,399.00) scale(0.9,1)" font-family='"Liberation Sans", Arial, Helvetica, sans-serif' font-size="7.4" font-weight="bold" text-anchor="middle" fill="#000" stroke="#000" stroke-width="0.15" >CD29</text>
<text transform="translate(451.20,398.40)" text-anchor="middle" xml:space="preserve"><tspan font-family='"Liberation Serif", "Times New Roman", serif' font-size="7.6" fill="#222">α4</tspan><tspan font-family='"Liberation Sans", Arial, Helvetica, sans-serif' font-weight="bold" font-size="5.3" fill="#222" stroke="#222" stroke-width="0.12">-integrin</tspan></text>
<text transform="translate(451.00,405.90) scale(1,1)" font-family='"Liberation Sans", Arial, Helvetica, sans-serif' font-size="9.5" font-weight="bold" text-anchor="middle" fill="#000" stroke="#000" stroke-width="0.3" >+</text>
<text transform="translate(451.70,413.00) scale(0.9,1)" font-family='"Liberation Sans", Arial, Helvetica, sans-serif' font-size="7.4" font-weight="bold" text-anchor="middle" fill="#000" stroke="#000" stroke-width="0.15" >CD29</text>
<text transform="translate(480.00,398.60) scale(0.9,1)" font-family='"Liberation Sans", Arial, Helvetica, sans-serif' font-size="7.7" font-weight="bold" text-anchor="middle" fill="#000" stroke="#000" stroke-width="0.15" >RNase</text>
<line x1="304.50" y1="417.00" x2="349.20" y2="417.00" stroke="#444" stroke-width="1.0"/>
<line x1="304.50" y1="415.00" x2="304.50" y2="419.00" stroke="#444" stroke-width="1.0"/>
<line x1="349.20" y1="415.00" x2="349.20" y2="419.00" stroke="#444" stroke-width="1.0"/>
<line x1="357.50" y1="417.00" x2="483.50" y2="417.00" stroke="#444" stroke-width="1.0"/>
<line x1="357.50" y1="415.00" x2="357.50" y2="419.00" stroke="#444" stroke-width="1.0"/>
<line x1="483.50" y1="415.00" x2="483.50" y2="419.00" stroke="#444" stroke-width="1.0"/>
<text transform="translate(327.20,426.60) scale(0.89,1)" font-family='"Liberation Sans", Arial, Helvetica, sans-serif' font-size="6.4" font-weight="bold" text-anchor="middle" fill="#000" stroke="#000" stroke-width="0.15" >Vehicle</text>
<text transform="translate(403.00,426.80) scale(0.92,1)" text-anchor="start" font-size="6.4" xml:space="preserve"><tspan font-family='"Liberation Sans", Arial, Helvetica, sans-serif' font-weight="bold" fill="#000" stroke="#000" stroke-width="0.15">10 </tspan><tspan font-family='"Liberation Serif", "Times New Roman", serif' font-size="7.6" fill="#444">μg/mL</tspan></text>
<text transform="translate(439.80,426.90) scale(1,1)" font-family='"Liberation Serif", "Times New Roman", serif' font-size="7.2" font-weight="bold" text-anchor="middle" fill="#000"  >MV</text>
</svg>
</body>
</html>
